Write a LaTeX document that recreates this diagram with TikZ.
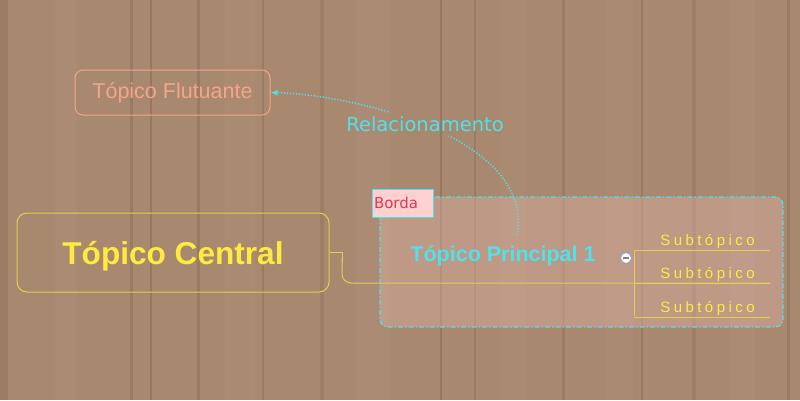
\documentclass[tikz,border=0pt]{standalone}
\usepackage{fontspec}
\setmainfont{Liberation Sans}
\newfontfamily\dejavu{DejaVu Sans}
\newfontfamily\subfont[LetterSpace=23]{Liberation Sans}
\usetikzlibrary{arrows.meta,calc}

\definecolor{wood}{RGB}{168,136,111}
\definecolor{wooddark}{RGB}{120,90,70}
\definecolor{woodlight}{RGB}{192,162,138}
\definecolor{salmon}{RGB}{245,165,135}
\definecolor{sunline}{RGB}{232,204,80}
\definecolor{suntext}{RGB}{255,234,64}
\definecolor{aqua}{RGB}{80,225,235}
\definecolor{rosefill}{RGB}{255,208,208}
\definecolor{redtext}{RGB}{225,55,80}
\definecolor{tint}{RGB}{225,180,170}

\tikzset{
  floating/.style={draw=salmon, line width=1pt, rounded corners=8pt, minimum width=195pt,
    minimum height=45pt, text=salmon, font=\fontsize{21.5}{24}\selectfont},
  central/.style={draw=sunline, line width=1pt, rounded corners=10pt, minimum width=312pt,
    minimum height=79pt, text height=30pt, text depth=5.4pt, text=suntext,
    font=\fontsize{31.6}{36}\selectfont\bfseries},
  maintopic/.style={text=aqua, inner sep=0pt, font=\fontsize{21.5}{24}\selectfont\bfseries},
  subtopic/.style={text=suntext, anchor=base, inner sep=0pt, font=\subfont\fontsize{15}{18}\selectfont},
  branch/.style={draw=sunline, line width=1pt},
  relation/.style={draw=aqua, line width=1.5pt, dash pattern=on 1.2pt off 1.8pt, -{Latex[length=7pt,width=6pt]}},
  bordertag/.style={draw=aqua, fill=rosefill, line width=1pt, text=redtext, text width=57pt,
    align=left, inner sep=2pt, minimum height=28pt, font=\dejavu\fontsize{15}{18}\selectfont},
  rellabel/.style={text=aqua, inner sep=4pt, font=\dejavu\fontsize{19.5}{22}\selectfont}
}

\begin{document}
\begin{tikzpicture}[x=1pt,y=-1pt]
\useasboundingbox (0,0) rectangle (800,400);
% wood background
\fill[wood] (0,0) rectangle (800,400);
\foreach \x/\w/\c/\o in {0/8/wooddark/0.25, 55/22/woodlight/0.15, 130/3/wooddark/0.3, 150/2/wooddark/0.35,
  197/3/wooddark/0.3, 225/30/woodlight/0.12, 262/2/wooddark/0.3, 320/4/wooddark/0.2, 355/35/woodlight/0.15,
  440/2/wooddark/0.35, 474/2/wooddark/0.3, 500/25/woodlight/0.12, 562/3/wooddark/0.25, 605/28/woodlight/0.12,
  641/2/wooddark/0.3, 692/4/wooddark/0.2, 730/25/woodlight/0.15, 787/3/wooddark/0.3}
  \fill[\c, opacity=\o] (\x,0) rectangle ++(\w,400);

% border around main topic
\draw[aqua, line width=1.3pt, dash pattern=on 5pt off 2pt on 1.5pt off 2pt, rounded corners=8pt,
  fill=tint, fill opacity=0.4] (380,197) rectangle (783,327);
\node[bordertag] (tag) at (402.5,203.3) {Borda};

% topics
\node[floating] (float) at (172.5,92.5) {Tópico Flutuante};
\node[central] (center) at (173,252.5) {Tópico Central};
\node[maintopic] (tp1) at (503,256) {Tópico Principal 1};

% branch from central topic
\coordinate (fork) at (634,283);
\draw[branch] (center.east) -- ++(13,0) -- ++(0,10);
\draw[branch, rounded corners=9pt] (342,258) -- (342,283) -- (770,283);
\draw[branch] (634,250) -- (634,316);
\foreach \n/\y in {1/245,2/278,3/312}{
  \node[subtopic] (sub\n) at (707.5,\y) {Subtópico};
  \draw[branch] (fork |- 0,\y+5) -- (770,\y+5);
}

% collapse button
\node[circle, draw={rgb,255:red,140;green,155;blue,200}, fill=white, line width=0.8pt,
  inner sep=0pt, minimum size=11pt] (btn) at (626,258) {};
\draw[gray, line width=1.5pt] ($(btn.center)+(-3,0)$) -- ($(btn.center)+(3,0)$);

% relationship
\node[rellabel] (rel) at (425,124) {Relacionamento};
\coordinate (relstart) at (517,235);
\begin{scope}
\clip (0,0) -- (800,0) -- (800,400) -- (0,400) -- cycle
  (rel.north west) -- (rel.south west) -- (rel.south east) -- (rel.north east) -- cycle;
\draw[relation] (relstart) .. controls (535,140) and (360,95) .. (float.east);
\end{scope}
\end{tikzpicture}
\end{document}
